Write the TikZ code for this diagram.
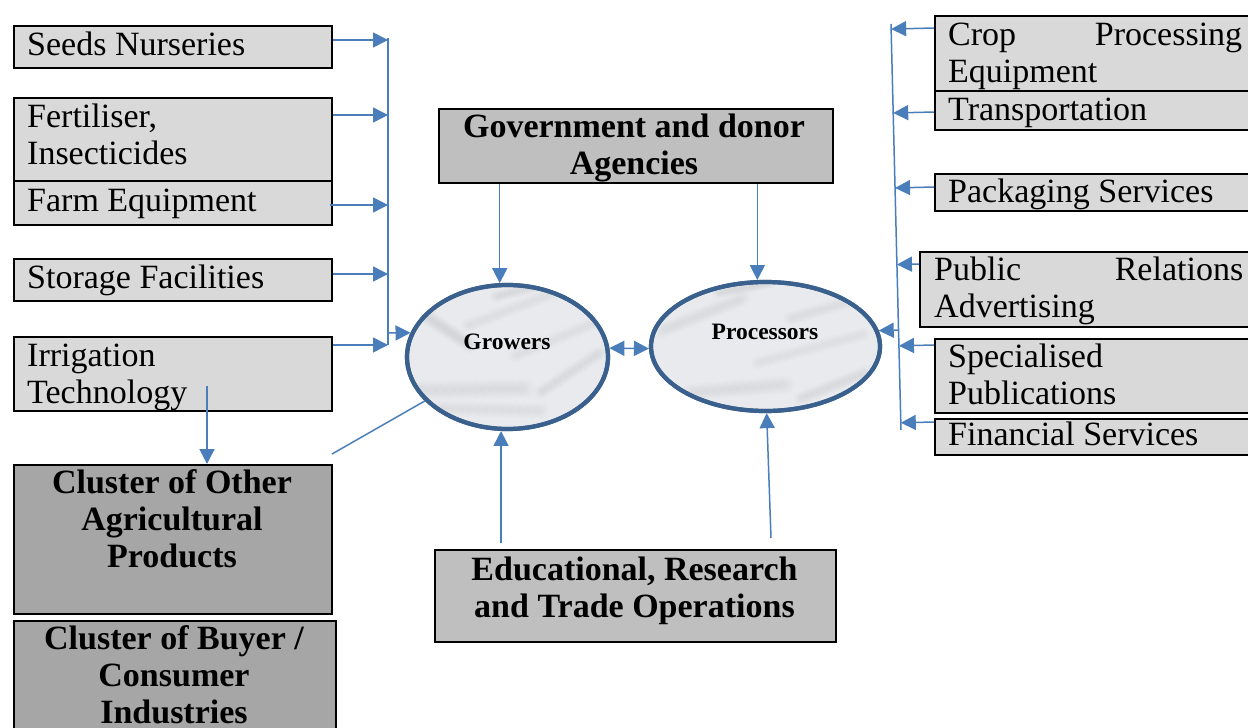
\documentclass[tikz,border=0pt]{standalone}
\usepackage{fontspec}
\setmainfont{Liberation Serif}
\usetikzlibrary{shapes.geometric,arrows.meta,calc,fadings}

\definecolor{linkblue}{RGB}{74,126,187}
\definecolor{rim}{RGB}{58,96,142}
\definecolor{lightbox}{RGB}{217,217,217}
\definecolor{midbox}{RGB}{191,191,191}
\definecolor{darkbox}{RGB}{166,166,166}
\definecolor{marble}{RGB}{233,234,237}
\definecolor{vein}{RGB}{110,112,118}

\tikzfading[name=softdot, inner color=transparent!0, outer color=transparent!100]

\tikzset{
  box/.style={rectangle, draw=black, line width=1.8pt, inner sep=0pt, anchor=north west},
  lbox/.style={box, fill=lightbox},
  mbox/.style={box, fill=midbox},
  dbox/.style={box, fill=darkbox},
  txt/.style={inner sep=0pt, anchor=base west, font=\fontsize{34}{37}\selectfont},
  btxt/.style={inner sep=0pt, anchor=base, font=\fontsize{34}{37}\selectfont\bfseries},
  hub/.style={ellipse, draw=rim, line width=4.2pt, fill=marble, inner sep=0pt},
  hubtxt/.style={inner sep=0pt, font=\fontsize{23.5}{26}\selectfont\bfseries},
  link/.style={draw=linkblue, line width=1.5pt},
  arr/.style={link, -{Triangle[length=15pt,width=15pt]}},
  darr/.style={link, {Triangle[length=15pt,width=15pt]}-{Triangle[length=15pt,width=15pt]}},
  smudge/.style={fill=vein, fill opacity=0.09, path fading=softdot},
}

% a soft marble vein: a row of faded dots from #1 to #2, dot radius #3
\newcommand{\marblevein}[3]{%
  \foreach \k in {0,...,12}{
    \fill[smudge] ($(#1)!\k/12!(#2)$) circle (#3);
  }%
}

\begin{document}
\begin{tikzpicture}[x=1pt,y=-1pt]
\useasboundingbox (0,0) rectangle (1248,728);
\fill[white] (0,0) rectangle (1248,728);
\clip (0,0) rectangle (1248,728);

% ---------- supplier boxes on the left ----------
\node[lbox, minimum width=318, minimum height=42] (seeds) at (13,25) {};
\node[lbox, minimum width=318, minimum height=83] (fert) at (13,97) {};
\node[lbox, minimum width=318, minimum height=44] (farm) at (13,180) {};
\node[lbox, minimum width=318, minimum height=42] (storage) at (13,258) {};
\node[lbox, minimum width=318, minimum height=74] (irrig) at (13,336) {};
\node[dbox, minimum width=318, minimum height=149] (other) at (13,464) {};
\node[dbox, minimum width=322, minimum height=130] (buyer) at (13,620) {};

\node[txt] (seeds-t) at (27,55) {Seeds Nurseries};
\node[txt] (fert-t) at (27,127) {\parbox[t]{300pt}{\raggedright Fertiliser,\\Insecticides}};
\node[txt] (farm-t) at (27,211) {Farm Equipment};
\node[txt] (storage-t) at (27,288) {Storage Facilities};
\node[txt] (irrig-t) at (27,366) {\parbox[t]{300pt}{\raggedright Irrigation\\Technology}};
\node[btxt] (other-t) at (172,493) {\parbox[t]{310pt}{\centering Cluster of Other\\Agricultural\\Products}};
\node[btxt] (buyer-t) at (174,649) {\parbox[t]{316pt}{\centering Cluster of Buyer /\\Consumer\\Industries}};

% ---------- support institutions ----------
\node[mbox, minimum width=394, minimum height=74] (gov) at (438,108) {};
\node[btxt] (gov-t) at (634,137) {\parbox[t]{390pt}{\centering Government and donor\\Agencies}};
\node[mbox, minimum width=401, minimum height=92] (edu) at (434,549) {};
\node[btxt] (edu-t) at (634.5,580) {\parbox[t]{398pt}{\centering Educational, Research\\and Trade Operations}};

% ---------- service boxes on the right ----------
\node[lbox, minimum width=330, minimum height=75] (crop) at (934,15) {};
\node[lbox, minimum width=330, minimum height=39] (transp) at (934,90) {};
\node[lbox, minimum width=330, minimum height=37] (pack) at (934,173) {};
\node[lbox, minimum width=345, minimum height=75] (public) at (919,251) {};
\node[lbox, minimum width=330, minimum height=74] (spec) at (934,338) {};
\node[lbox, minimum width=330, minimum height=36] (fin) at (934,418) {};

\node[txt] (crop-t) at (948,45) {\parbox[t]{300pt}{\raggedright\makebox[294pt][s]{Crop Processing}\\Equipment}};
\node[txt] (transp-t) at (948,120) {Transportation};
\node[txt] (pack-t) at (948,202) {Packaging Services};
\node[txt] (public-t) at (934,280) {\parbox[t]{315pt}{\raggedright\makebox[309pt][s]{Public Relations}\\Advertising}};
\node[txt] (spec-t) at (948,367) {\parbox[t]{300pt}{\raggedright Specialised\\Publications}};
\node[txt] (fin-t) at (948,445) {Financial Services};

% ---------- the two core actors ----------
\node[hub, minimum width=201, minimum height=144] (growers) at (507.5,357) {};
\node[hub, minimum width=229, minimum height=129] (processors) at (765.5,346.5) {};

% marble veining inside the ellipses
\begin{scope}
  \clip (growers.center) ellipse [x radius=98pt, y radius=70pt];
  \marblevein{418,390}{525,388}{11pt}
  \marblevein{440,408}{540,410}{9pt}
  \marblevein{468,325}{560,290}{8pt}
  \marblevein{515,355}{605,318}{8pt}
  \marblevein{540,392}{600,352}{8pt}
  \marblevein{420,312}{470,345}{9pt}
  \marblevein{495,296}{550,282}{7pt}
\end{scope}
\begin{scope}
  \clip (processors.center) ellipse [x radius=111pt, y radius=62pt];
  \marblevein{662,330}{742,298}{9pt}
  \marblevein{690,392}{785,384}{10pt}
  \marblevein{790,318}{872,295}{8pt}
  \marblevein{758,362}{862,334}{8pt}
  \marblevein{718,292}{770,282}{7pt}
  \marblevein{800,398}{866,372}{8pt}
\end{scope}
\node[hub, fill=none, minimum width=201, minimum height=144] (growers-rim) at (growers.center) {};
\node[hub, fill=none, minimum width=229, minimum height=129] (processors-rim) at (processors.center) {};

\node[hubtxt] (growers-t) at (507,342) {Growers};
\node[hubtxt] (processors-t) at (765,332) {Processors};

% ---------- left collector line ----------
\coordinate (lt) at (388,38);
\coordinate (lb) at (388,345);
\draw[link] (lt) -- (lb);
\draw[arr] (seeds.east |- 0,40) -- (lt |- 0,40);
\draw[arr] (fert.east |- 0,115) -- (lt |- 0,115);
\draw[arr] ([xshift=-3pt]farm.east |- 0,205) -- (lt |- 0,205);
\draw[arr] (storage.east |- 0,274) -- (lt |- 0,274);
\draw[arr] (irrig.east |- 0,345) -- (lt |- 0,345);
\draw[arr] (lt |- 0,333) -- (growers.166);

% irrigation feeds the neighbouring cluster
\coordinate (id) at (207,386);
\draw[arr] (id) -- (id |- other.north);
\coordinate (lk) at (332,454);
\draw[link] (growers.208) -- (lk);

% ---------- right collector line ----------
\coordinate (rt) at (891,24);
\coordinate (rb) at (901,430);
\draw[link] (rt) -- (rb);
\coordinate (c1) at (crop.west |- 0,28);
\coordinate (c2) at (transp.west |- 0,112);
\coordinate (c3) at (pack.west |- 0,187);
\coordinate (c4) at (public.west |- 0,264);
\coordinate (c5) at (spec.west |- 0,345);
\coordinate (c6) at (fin.west |- 0,422);
\foreach \c in {c1,c2,c3,c4,c5,c6}{
  \draw[arr] (\c) -- ($(rt)!(\c)!(rb)$);
}
\draw[arr] ($(rt)!(processors.8)!(rb)$) -- (processors.8);

% ---------- links between actors and institutions ----------
\draw[darr] (growers.5) -- (processors.181);
\draw[arr] (gov.south -| growers.96) -- (growers.96);
\draw[arr] (gov.south -| processors.97) -- (processors.97);
\coordinate (eL) at ($(edu.north -| growers.-95)+(0,-6)$);
\coordinate (eR) at (771,538);
\draw[arr] (eL) -- (growers.-95);
\draw[arr] (eR) -- (processors.-89);
\end{tikzpicture}
\end{document}
